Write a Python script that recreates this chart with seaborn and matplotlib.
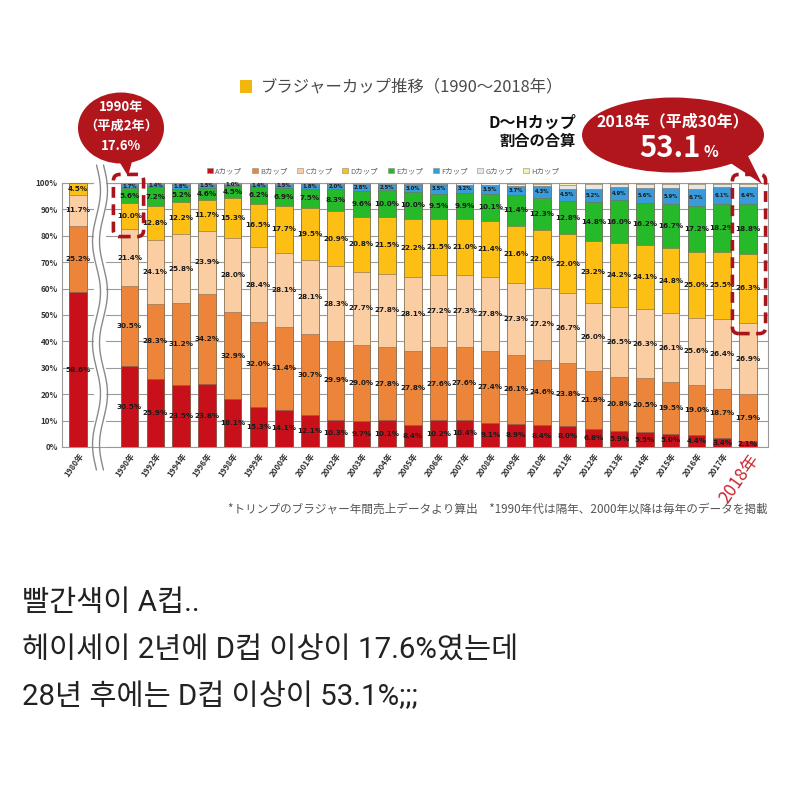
import numpy as np
import pandas as pd
import matplotlib
matplotlib.use("Agg")
import matplotlib.pyplot as plt
import seaborn as sns
from matplotlib.patches import Ellipse, Polygon, FancyBboxPatch, Rectangle, Patch
from matplotlib.lines import Line2D

# ---------------- data ----------------
years = ["1980年", "1990年", "1992年", "1994年", "1996年", "1998年", "1999年",
         "2000年", "2001年", "2002年", "2003年", "2004年", "2005年", "2006年",
         "2007年", "2008年", "2009年", "2010年", "2011年", "2012年", "2013年",
         "2014年", "2015年", "2016年", "2017年", "2018年"]
cups = ["Aカップ", "Bカップ", "Cカップ", "Dカップ", "Eカップ", "Fカップ", "Gカップ", "Hカップ"]

cup_a = [58.6, 30.5, 25.9, 23.5, 23.8, 18.1, 15.3, 14.1, 12.1, 10.3, 9.7, 10.1, 8.4,
         10.2, 10.4, 9.1, 8.9, 8.4, 8.0, 6.8, 5.9, 5.5, 5.0, 4.4, 3.4, 2.1]
cup_b = [25.2, 30.5, 28.3, 31.2, 34.2, 32.9, 32.0, 31.4, 30.7, 29.9, 29.0, 27.8, 27.8,
         27.6, 27.6, 27.4, 26.1, 24.6, 23.8, 21.9, 20.8, 20.5, 19.5, 19.0, 18.7, 17.9]
cup_c = [11.7, 21.4, 24.1, 25.8, 23.9, 28.0, 28.4, 28.1, 28.1, 28.3, 27.7, 27.8, 28.1,
         27.2, 27.3, 27.8, 27.3, 27.2, 26.7, 26.0, 26.5, 26.3, 26.1, 25.6, 26.4, 26.9]
cup_d = [4.5, 10.0, 12.8, 12.2, 11.7, 15.3, 16.5, 17.7, 19.5, 20.9, 20.8, 21.5, 22.2,
         21.5, 21.0, 21.4, 21.6, 22.0, 22.0, 23.2, 24.2, 24.1, 24.8, 25.0, 25.5, 26.3]
cup_e = [0.0, 5.6, 7.2, 5.2, 4.6, 4.5, 6.2, 6.9, 7.5, 8.3, 9.6, 10.0, 10.0,
         9.5, 9.9, 10.1, 11.4, 12.3, 12.8, 14.8, 16.0, 16.2, 16.7, 17.2, 18.2, 18.8]
cup_f = [0.0, 1.7, 1.4, 1.8, 1.5, 1.0, 1.4, 1.5, 1.8, 2.0, 2.8, 2.5, 3.0,
         3.5, 3.2, 3.5, 3.7, 4.3, 4.5, 5.2, 4.9, 5.6, 5.9, 6.7, 6.1, 6.4]
cup_g = [0.0, 0.3, 0.3, 0.3, 0.3, 0.2, 0.2, 0.3, 0.3, 0.3, 0.4, 0.3, 0.5,
         0.4, 0.5, 0.6, 0.8, 1.0, 1.6, 1.6, 1.3, 1.4, 1.6, 1.6, 1.3, 1.2]
cup_h = [0.0, 0.0, 0.0, 0.0, 0.0, 0.0, 0.0, 0.0, 0.0, 0.0, 0.0, 0.0, 0.0,
         0.1, 0.1, 0.1, 0.2, 0.2, 0.6, 0.5, 0.4, 0.4, 0.4, 0.5, 0.4, 0.4]
series = [cup_a, cup_b, cup_c, cup_d, cup_e, cup_f, cup_g, cup_h]

colors = ["#C8101B", "#EC8539", "#FACDA2", "#FDBF14", "#26BA2A", "#3A9BDA", "#E6E6E6", "#F4F1B0"]

# category order with an empty slot for the axis break
order = [years[0], " "] + years[1:]

# ---------------- style ----------------
sns.set_style("white")
plt.rcParams["font.family"] = ["Noto Sans CJK JP", "DejaVu Sans"]

W, H = 800, 789
fig = plt.figure(figsize=(8.0, 7.89), dpi=100)
fig.patch.set_facecolor("white")

def fx(x):
    return x / W

def fy(y):
    return 1 - y / H

ax = fig.add_axes([fx(62), fy(447), fx(768) - fx(62), fy(183) - fy(447)])

vals = np.array(series)
cums = np.cumsum(vals, axis=0)

# draw cumulative bars from the tallest down so they appear stacked
for k in range(len(cups) - 1, -1, -1):
    df = pd.DataFrame({"year": years, "cum": cums[k]})
    sns.barplot(data=df, x="year", y="cum", order=order, color=colors[k],
                saturation=1, width=0.68, errorbar=None,
                edgecolor="#7a6a5a", linewidth=0.4, ax=ax, zorder=3)

# segment labels
pos = {c: i for i, c in enumerate(order)}
for k in range(len(cups)):
    for j, yr in enumerate(years):
        v = vals[k, j]
        if v < 1.0 or k >= 6:
            continue
        mid = cums[k, j] - v / 2
        fs = 5.2 if k < 5 else 3.8
        ax.text(pos[yr], mid, f"{v:.1f}%", ha="center", va="center",
                fontsize=fs, fontweight="bold", color="#1a1a1a", zorder=5,
                family=["DejaVu Sans"])

ax.set_ylim(0, 100)
ax.set_xlim(-0.62, len(order) - 1 + 0.78)
ax.set_yticks(np.arange(0, 101, 10))
ax.set_yticklabels([f"{t}%" for t in range(0, 101, 10)], fontsize=5.8,
                   fontweight="bold", color="#333333")
ax.yaxis.grid(True, color="#9a9a9a", linewidth=0.8, zorder=0)
ax.set_axisbelow(True)
ax.set_xlabel("")
ax.set_ylabel("")
for s in ax.spines.values():
    s.set_color("#9a9a9a")
    s.set_linewidth(0.8)
ax.tick_params(axis="both", length=0, pad=3)

ax.set_xticks(range(len(order)))
xlabels = ax.set_xticklabels(order, rotation=55, ha="right",
                             rotation_mode="anchor", fontsize=5.8,
                             fontweight="bold", color="#333333")
for t in xlabels:
    if t.get_text() == "2018年":
        t.set_color("#C8262E")
        t.set_fontsize(12.5)
        t.set_fontweight("normal")

# axis-break wavy double line
yy = np.linspace(165, 470, 200)
fig.add_artist(Rectangle((fx(93.5), fy(447)), fx(13), fy(183) - fy(447),
                         facecolor="white", edgecolor="none", zorder=4))
for off in (-3.5, 3.5):
    xx = 100 + off + 4 * np.sin((yy - 165) / 305 * 2 * np.pi * 3)
    fig.add_artist(Line2D(fx(xx), fy(yy), color="#8a8a8a", linewidth=1.0, zorder=6))

# title
fig.add_artist(Rectangle((fx(240), fy(93)), fx(12), fy(80) - fy(93),
                         facecolor="#F2B70F", edgecolor="none"))
fig.text(fx(261), fy(87), "ブラジャーカップ推移（1990〜2018年）", fontsize=11.8,
         color="#4a4a4a", ha="left", va="center")

# legend
handles = [Patch(facecolor=c, edgecolor="#8a8a8a", linewidth=0.4) for c in colors]
fig.legend(handles, cups, loc="center", bbox_to_anchor=(fx(383), fy(171)),
           ncol=8, fontsize=5.4, frameon=False, handlelength=0.8, handleheight=0.8,
           columnspacing=1.3, handletextpad=0.3, labelcolor="#666666")

# left callout
red = "#B2161D"
fig.add_artist(Polygon([(fx(117), fy(158)), (fx(133), fy(158)), (fx(128), fy(176))],
                       closed=True, facecolor=red, edgecolor="none", zorder=7))
fig.add_artist(Ellipse((fx(121), fy(128)), fx(86), fy(93) - fy(164),
                       facecolor=red, edgecolor="none", zorder=7))
fig.text(fx(121), fy(107), "1990年", color="white", fontsize=9.5, fontweight="bold",
         ha="center", va="center", zorder=8)
fig.text(fx(121), fy(126), "（平成2年）", color="white", fontsize=9.5, fontweight="bold",
         ha="center", va="center", zorder=8)
fig.text(fx(121), fy(146), "17.6%", color="white", fontsize=9.5, fontweight="bold",
         ha="center", va="center", zorder=8)
fig.add_artist(FancyBboxPatch((fx(115), fy(235)), fx(27), fy(176) - fy(235),
                              boxstyle="round,pad=0.002,rounding_size=0.008",
                              facecolor="none", edgecolor="#A8141C", linewidth=2.6,
                              linestyle=(0, (3, 1.8)), zorder=8))

# right callout
fig.add_artist(Polygon([(fx(726), fy(160)), (fx(745), fy(150)), (fx(762), fy(184))],
                       closed=True, facecolor=red, edgecolor="none", zorder=7))
fig.add_artist(Ellipse((fx(673), fy(135)), fx(182), fy(98) - fy(173),
                       facecolor=red, edgecolor="none", zorder=7))
fig.text(fx(673), fy(121), "2018年（平成30年）", color="white", fontsize=11.5,
         fontweight="bold", ha="center", va="center", zorder=8)
fig.text(fx(701), fy(148), "53.1", color="white", fontsize=21,
         fontweight="bold", ha="right", va="center", zorder=8)
fig.text(fx(703), fy(152), "%", color="white", fontsize=11,
         fontweight="bold", ha="left", va="center", zorder=8)
fig.text(fx(576), fy(123), "D〜Hカップ", color="#111111", fontsize=11.5,
         fontweight="bold", ha="right", va="center")
fig.text(fx(576), fy(141), "割合の合算", color="#111111", fontsize=11,
         fontweight="bold", ha="right", va="center")
fig.add_artist(FancyBboxPatch((fx(734), fy(332)), fx(30), fy(176) - fy(332),
                              boxstyle="round,pad=0.002,rounding_size=0.008",
                              facecolor="none", edgecolor="#A8141C", linewidth=2.6,
                              linestyle=(0, (3, 1.8)), zorder=8))

# footnote
fig.text(fx(768), fy(509),
         "*トリンプのブラジャー年間売上データより算出　*1990年代は隔年、2000年以降は毎年のデータを掲載",
         fontsize=8.4, color="#555555", ha="right", va="center")

# Korean caption
kr = ["Roboto", "Noto Sans CJK KR", "DejaVu Sans"]
caption = ["빨간색이 A컵..",
           "헤이세이 2년에 D컵 이상이 17.6%였는데",
           "28년 후에는 D컵 이상이 53.1%;;;"]
for line, y in zip(caption, [603, 651, 697]):
    fig.text(fx(22), fy(y), line, fontsize=21.2, color="#222222",
             ha="left", va="center", family=kr)

fig.savefig("out.png", dpi=100, facecolor="white")
